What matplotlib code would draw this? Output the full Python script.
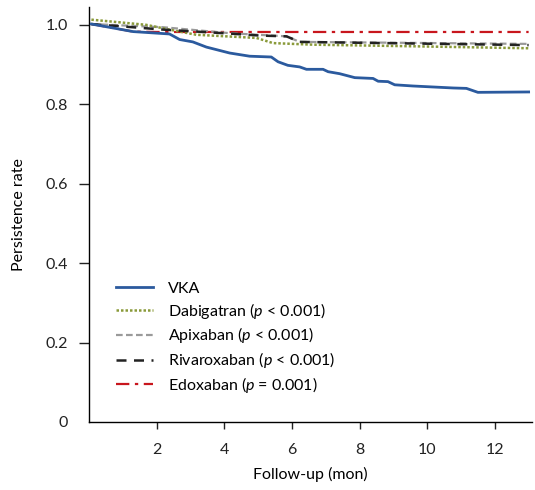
import numpy as np
import matplotlib.pyplot as plt

plt.rcParams['font.family'] = ['Lato', 'DejaVu Sans']
plt.rcParams['mathtext.fontset'] = 'custom'
plt.rcParams['mathtext.it'] = 'Lato:italic'
plt.rcParams['mathtext.rm'] = 'Lato'

# Data (months, persistence rate)
vka_t = [0.07, 1.3, 2.38, 2.68, 3.07, 3.47, 4.16, 4.75, 5.39, 5.59, 5.88, 6.23, 6.43,
         6.92, 7.07, 7.41, 7.86, 8.4, 8.55, 8.84, 9.04, 9.58, 10.77, 11.16, 11.5, 13.0]
vka_y = [1.002, 0.983, 0.977, 0.963, 0.957, 0.944, 0.929, 0.921, 0.919, 0.907, 0.898,
         0.894, 0.888, 0.888, 0.882, 0.877, 0.867, 0.865, 0.858, 0.857, 0.849, 0.846,
         0.841, 0.840, 0.830, 0.831]

dabi_t = [0.07, 1.69, 2.38, 3.17, 4.95, 5.44, 6.63, 9.58, 13.0]
dabi_y = [1.013, 1.0, 0.988, 0.975, 0.967, 0.954, 0.950, 0.946, 0.941]

apix_t = [0.07, 2.19, 4.16, 5.84, 6.23, 13.0]
apix_y = [1.002, 0.994, 0.979, 0.971, 0.957, 0.952]

riva_t = [0.07, 2.19, 4.16, 5.05, 5.84, 6.23, 13.0]
riva_y = [1.002, 0.988, 0.978, 0.973, 0.971, 0.957, 0.949]

edox_t = [0.07, 1.3, 2.0, 13.0]
edox_y = [1.002, 0.983, 0.982, 0.982]

labels = ['VKA',
          r'Dabigatran ($p$ < 0.001)',
          r'Apixaban ($p$ < 0.001)',
          r'Rivaroxaban ($p$ < 0.001)',
          r'Edoxaban ($p$ = 0.001)']

fs = 11.5

fig = plt.figure(figsize=(5.35, 4.9), dpi=100)
ax = fig.add_axes([0.1664, 0.1388, 0.828, 0.847])

ax.plot(edox_t, edox_y, color='#c8161d', lw=1.6, dashes=(6, 2.5, 1.5, 2.5), label=labels[4], zorder=3)
ax.plot(riva_t, riva_y, color='#222222', lw=1.8, dashes=(4, 3), label=labels[3], zorder=4)
ax.plot(apix_t, apix_y, color='#9a9a9a', lw=1.6, dashes=(3, 1.5), label=labels[2], zorder=3)
ax.plot(dabi_t, dabi_y, color='#8a9a3a', lw=1.8, dashes=(1, 0.8), label=labels[1], zorder=3)
ax.plot(vka_t, vka_y, color='#2b5a9e', lw=2.0, label=labels[0], zorder=5)

handles, labs = ax.get_legend_handles_labels()
order = [4, 3, 2, 1, 0]
ax.legend([handles[i] for i in order], [labs[i] for i in order], loc='lower left',
          bbox_to_anchor=(0.061, 0.065), frameon=False, fontsize=fs,
          borderpad=0, borderaxespad=0,
          handlelength=2.3, handletextpad=0.95, labelspacing=0.3)

ax.set_xlim(0, 13.1)
ax.set_ylim(0, 1.045)
ax.set_xticks([2, 4, 6, 8, 10, 12])
ax.set_yticks([0, 0.2, 0.4, 0.6, 0.8, 1.0])
ax.set_yticklabels(['0', '0.2', '0.4', '0.6', '0.8', '1.0'])
ax.yaxis.get_major_ticks()[0].tick1line.set_visible(False)

ax.spines['top'].set_visible(False)
ax.spines['right'].set_visible(False)
ax.spines['left'].set_linewidth(1.0)
ax.spines['bottom'].set_linewidth(1.0)
ax.tick_params(axis='x', length=5, width=1, pad=10, labelsize=fs, colors='#222222')
ax.tick_params(axis='y', length=7, width=1, pad=8, labelsize=fs, colors='#222222')

ax.set_xlabel('Follow-up (mon)', fontsize=fs, labelpad=7)
ax.set_ylabel('Persistence rate', fontsize=fs, labelpad=14)

fig.savefig('out.png', dpi=100)
